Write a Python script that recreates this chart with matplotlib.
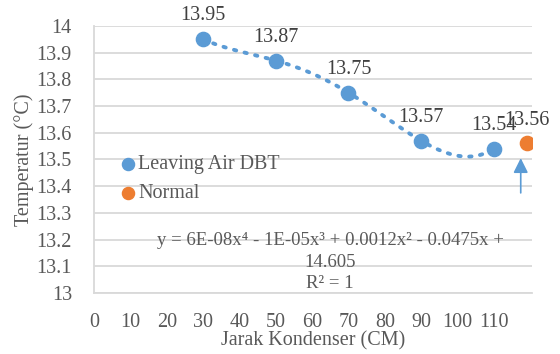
import numpy as np
import matplotlib.pyplot as plt

plt.rcParams.update({
    "font.family": "Liberation Serif",
    "font.size": 14.5,
    "text.color": "#595959",
    "axes.labelcolor": "#595959",
    "xtick.color": "#595959",
    "ytick.color": "#595959",
})

# data
jarak = [30, 50, 70, 90, 110]
suhu = [13.95, 13.87, 13.75, 13.57, 13.54]
normal_x = [119]
normal_y = [13.56]
xticks = list(range(0, 111, 10))
yticks = [13.0, 13.1, 13.2, 13.3, 13.4, 13.5, 13.6, 13.7, 13.8, 13.9, 14.0]

blue = "#5B9BD5"
orange = "#ED7D31"

fig = plt.figure(figsize=(5.6, 3.54), dpi=100)
ax = fig.add_axes([0.168, 0.172, 0.782, 0.755])

# polynomial trendline (order 4), as Excel would fit it
coef = np.polyfit(jarak, suhu, 4)
xs = np.linspace(jarak[0], jarak[-1], 200)
ax.plot(xs, np.polyval(coef, xs), linestyle=(0, (0.6, 2.2)), color=blue,
        linewidth=2.8, dash_capstyle="round", zorder=2)

ax.scatter(jarak, suhu, s=105, color=blue, zorder=3, label="Leaving Air DBT")
ax.scatter(normal_x, normal_y, s=105, color=orange, zorder=3, label="Normal")

for x, y in zip(jarak + normal_x, suhu + normal_y):
    ax.annotate(f"{y:.2f}", (x, y), xytext=(0, 10), textcoords="offset points",
                ha="center", va="bottom", color="#404040")

# arrow under the normal point
ax.annotate("", xy=(117.4, 13.505), xytext=(117.4, 13.375),
            arrowprops=dict(arrowstyle="-|>", color=blue, lw=1.2,
                            mutation_scale=22, shrinkA=0, shrinkB=0))

ax.text(65, 13.115, "y = 6E-08x⁴ - 1E-05x³ + 0.0012x² - 0.0475x +\n14.605\nR² = 1",
        ha="center", va="center", fontsize=13.5, color="#595959",
        linespacing=1.35)

ax.set_xlim(0, 120.5)
ax.set_ylim(13.0, 14.0)
ax.set_xticks(xticks)
ax.set_yticks(yticks)
ax.set_yticklabels([f"{v:g}" for v in yticks])
ax.grid(axis="y", color="#D9D9D9", linewidth=1.3)
ax.set_axisbelow(True)
for s in ["top", "right"]:
    ax.spines[s].set_visible(False)
for s in ["left", "bottom"]:
    ax.spines[s].set_color("#D9D9D9")
    ax.spines[s].set_linewidth(1.3)
ax.tick_params(axis="y", length=0, pad=16)
ax.tick_params(axis="x", length=0, pad=14)

ax.set_xlabel("Jarak Kondenser (CM)", labelpad=0)
ax.set_ylabel("Temperatur (°C)", labelpad=2)

ax.legend(loc="center left", bbox_to_anchor=(0.055, 0.427), frameon=False,
          handletextpad=0.0, labelspacing=0.5, borderaxespad=0,
          borderpad=0, scatterpoints=1, markerscale=0.85, handlelength=1.0)

fig.savefig("out.png", dpi=100)
